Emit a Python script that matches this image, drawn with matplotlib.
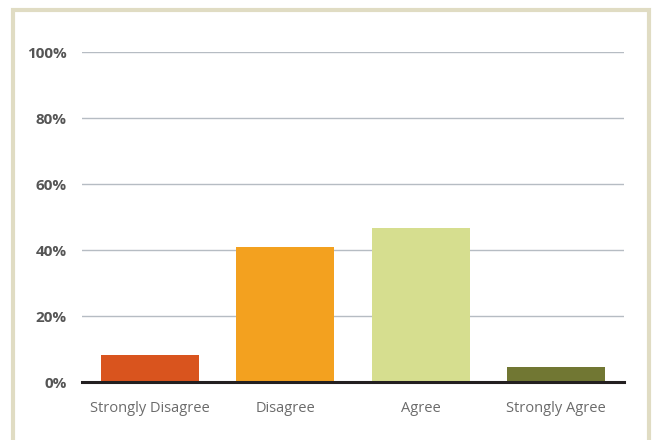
import matplotlib.pyplot as plt
from matplotlib.patches import Rectangle

categories = ['Strongly Disagree', 'Disagree', 'Agree', 'Strongly Agree']
shares = [8.2, 41.0, 46.8, 4.5]
colors = ['#d9541e', '#f3a11f', '#d6de8f', '#717733']
yticks = [0, 20, 40, 60, 80, 100]

fig = plt.figure(figsize=(6.53, 4.40), dpi=100)
ax = fig.add_axes([82 / 653, 1 - 382 / 440, (624 - 82) / 653, (382 - 52) / 440])

xs = range(len(categories))
ax.bar(xs, shares, width=0.72, color=colors, zorder=3)

ax.set_xlim(-0.5, 3.5)
ax.set_ylim(0, 100)
ax.set_yticks(yticks)
ax.set_yticklabels([f'{t}%' for t in yticks], fontsize=11, fontweight='bold',
                   color='#555555', family='Open Sans')
ax.set_xticks(list(xs))
ax.set_xticklabels(categories, fontsize=10.5, color='#6b6b6b', family='Open Sans')
ax.tick_params(length=0, axis='y', pad=11)
ax.tick_params(length=0, axis='x', pad=14)

ax.grid(axis='y', color='#b6bcc3', linewidth=1.0, zorder=0)
for s in ['top', 'right', 'left']:
    ax.spines[s].set_visible(False)
ax.spines['bottom'].set_color('#231f20')
ax.spines['bottom'].set_linewidth(2.2)
ax.spines['bottom'].set_zorder(4)

# beige frame round the panel
fig.patches.append(Rectangle((13 / 653, -0.05), (649 - 13) / 653, 1.05 - 10 / 440,
                             transform=fig.transFigure, fill=False,
                             edgecolor='#e0dcc3', linewidth=3.0))

fig.savefig('out.png', dpi=100)
